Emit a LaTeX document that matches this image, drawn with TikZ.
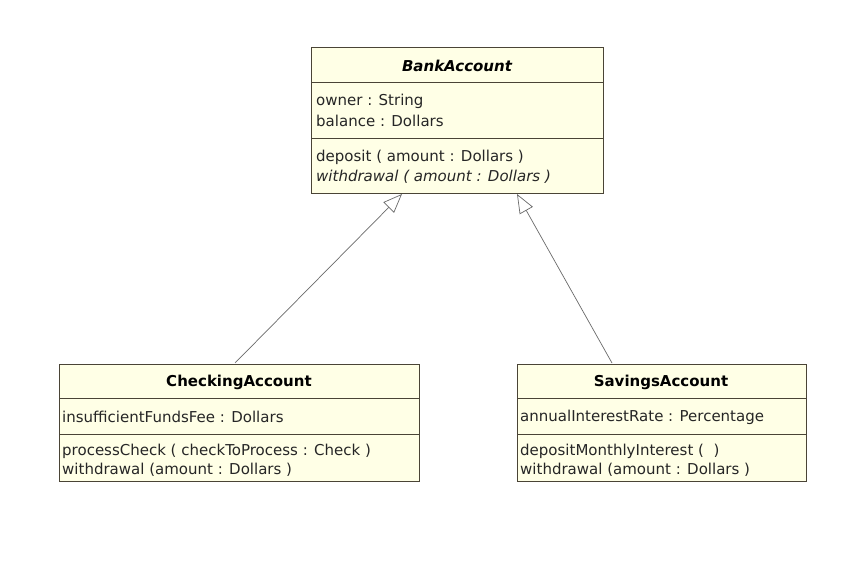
\documentclass[tikz,border=0pt]{standalone}
\usepackage{fontspec}
\setmainfont{DejaVu Sans}
\usetikzlibrary{arrows.meta}
\definecolor{clsfill}{HTML}{FFFFE6}
\definecolor{clsline}{HTML}{4A4436}
\definecolor{linkc}{HTML}{6A6A6A}
\begin{document}
\begin{tikzpicture}[x=1pt,y=-1pt,
  cls/.style={draw=clsline, fill=clsfill, line width=1pt, rectangle, anchor=north west, inner sep=0pt},
  sepline/.style={draw=clsline, line width=1pt},
  title/.style={font=\fontsize{15}{17}\selectfont\bfseries, inner sep=0pt, text=black},
  member/.style={font=\fontsize{15}{17}\selectfont, anchor=west, inner sep=0pt, text=black!85},
  inherit/.style={draw=linkc, line width=0.7pt, -{Triangle[open, length=19pt, width=15pt, line width=0.7pt]}}
]
\path[use as bounding box, fill=white] (0,0) rectangle (857,564);

% BankAccount
\node[cls, minimum width=292pt, minimum height=146pt] (ba) at (311,47) {};
\draw[sepline] (311,83) -- (603,83);
\draw[sepline] (311,139) -- (603,139);
\node[title, font=\fontsize{15}{17}\selectfont\bfseries\itshape] (baT) at (457,66) {BankAccount};
\node[member] (ba1) at (316,101) {owner : String};
\node[member] (ba2) at (316,121) {balance : Dollars};
\node[member] (ba3) at (316,157) {deposit ( amount : Dollars )};
\node[member, font=\fontsize{15}{17}\selectfont\itshape] (ba4) at (316,177) {withdrawal ( amount : Dollars )};

% CheckingAccount
\node[cls, minimum width=360pt, minimum height=117pt] (ca) at (59,364) {};
\draw[sepline] (59,398) -- (419,398);
\draw[sepline] (59,434) -- (419,434);
\node[title] (caT) at (239,382) {CheckingAccount};
\node[member] (ca1) at (62,417) {insufficientFundsFee : Dollars};
\node[member] (ca2) at (62,451) {processCheck ( checkToProcess : Check )};
\node[member] (ca3) at (62,470) {withdrawal (amount : Dollars )};

% SavingsAccount
\node[cls, minimum width=289pt, minimum height=117pt] (sa) at (517,364) {};
\draw[sepline] (517,398) -- (806,398);
\draw[sepline] (517,434) -- (806,434);
\node[title] (saT) at (661,382) {SavingsAccount};
\node[member] (sa1) at (520,417) {annualInterestRate : Percentage};
\node[member] (sa2) at (520,451) {depositMonthlyInterest ( \ )};
\node[member] (sa3) at (520,470) {withdrawal (amount : Dollars )};

% generalisation links
\coordinate (baL) at (402,194);
\coordinate (baR) at (517,194);
\coordinate (caTop) at (235,363);
\coordinate (saTop) at (612,363);
\draw[inherit] (caTop) -- (baL);
\draw[inherit] (saTop) -- (baR);
\end{tikzpicture}
\end{document}
